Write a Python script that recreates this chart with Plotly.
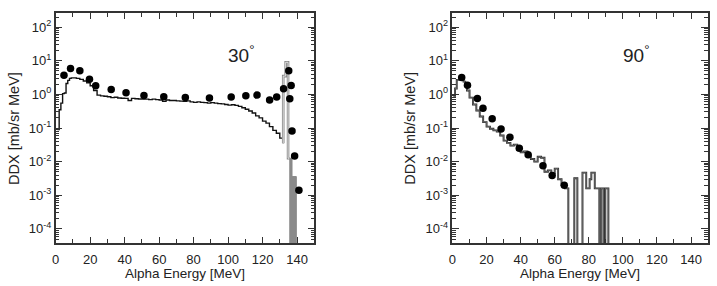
import plotly.graph_objects as go
import numpy as np

# ---------------- data: 30 degrees ----------------
exp30_E = [4.8, 8.6, 14.0, 19.6, 23.2, 32.2, 40.8, 51.2, 62.7, 75.2, 89.2, 101.8,
           110.3, 116.8, 124.1, 128.2, 132.2, 135.2, 136.6, 135.8, 137.1, 138.6, 141.1]
exp30_DDX = [3.7, 5.9, 5.0, 2.8, 1.8, 1.4, 1.12, 0.93, 0.85, 0.81, 0.78, 0.83,
             0.91, 0.95, 0.68, 0.84, 1.48, 5.0, 1.85, 0.74, 0.081, 0.0147, 0.0014]

calc30_edges = [1, 2, 3, 4, 5, 6, 7, 8, 9] + list(range(12, 134, 2))
calc30_vals = [0.09, 0.35, 0.55, 1.05, 1.1, 2.1, 2.6, 3.0, 3.1,
               3.0, 2.8, 2.5, 2.2, 1.8, 1.3, 0.95, 0.9, 0.88, 0.85,
               0.8, 0.82, 0.78, 0.77, 0.76, 0.66, 0.76, 0.74, 0.73, 0.72,
               0.72, 0.7, 0.72, 0.7, 0.68, 0.62, 0.68, 0.66, 0.66, 0.64,
               0.63, 0.62, 0.64, 0.6, 0.58, 0.6, 0.58, 0.57, 0.55, 0.57,
               0.55, 0.53, 0.52, 0.5, 0.48, 0.49, 0.47, 0.44, 0.40, 0.36,
               0.32, 0.28, 0.23, 0.2, 0.16, 0.14, 0.11, 0.085, 0.07, 0.05, 0.035]

peak30_edges = [132, 133.4, 134.8, 135.8]
peak30_vals = [3.5, 9.0, 0.0126]

fill30_edges = [135.8, 137.1, 139.6]
fill30_vals = [0.0126, 0.0036]

# ---------------- data: 90 degrees ----------------
exp90_E = [5.4, 8.8, 14.6, 17.9, 23.3, 28.5, 33.7, 39.2, 44.4, 53.1, 58.5, 65.6]
exp90_DDX = [3.2, 1.88, 0.76, 0.39, 0.19, 0.093, 0.053, 0.025, 0.016, 0.0075, 0.0039, 0.0020]

calc90_edges = [0.5, 1.5, 2.5, 4.5, 6.5, 7.5, 8.5, 10] + list(range(12, 70, 2)) + \
               [71.5, 73.3, 76.3, 78.5, 80.5, 81.5, 83.5, 86.2, 87.1, 88.6, 89.7, 91.5]
calc90_vals = [0.9, 1.5, 2.7, 3.2, 2.4, 1.9, 1.3,
               0.8, 0.5, 0.33, 0.22, 0.15, 0.11, 0.095, 0.085, 0.078, 0.06,
               0.042, 0.036, 0.03, 0.032, 0.022, 0.019, 0.02, 0.015, 0.012, 0.010,
               0.014, 0.013, 0.005, 0.0055, 0.0045, 0.0062, 0.003, 0.002, 0.0016,
               0, 0.0032, 0, 0.0047, 0.0016, 0.003, 0.0047, 0.0016, 0, 0.0016, 0, 0.0016]

xtick_vals = [0, 20, 40, 60, 80, 100, 120, 140]
ytick_exps = [-4, -3, -2, -1, 0, 1, 2]
angle_labels = ["30", "90"]

FLOOR = 1e-7


def step_xy(edges, vals, close_end=True):
    v = [x if x > 0 else FLOOR for x in vals]
    xs = list(edges)
    ys = v + [v[-1]]
    if close_end:
        xs = xs + [edges[-1]]
        ys = ys + [FLOOR]
    return xs, ys


fig = go.Figure()

# ---- left panel (30 deg)
x, y = step_xy(calc30_edges, calc30_vals, close_end=False)
fig.add_trace(go.Scatter(x=x, y=y, mode="lines", line=dict(shape="hv", color="#111", width=1.4),
                         xaxis="x", yaxis="y", showlegend=False))
px_ = [calc30_edges[-1]] + peak30_edges
py_ = [calc30_vals[-1]] + peak30_vals + [peak30_vals[-1]]
fig.add_trace(go.Scatter(x=px_, y=py_[:len(px_)], mode="lines",
                         line=dict(shape="hv", color="#8a8a8a", width=2.6),
                         xaxis="x", yaxis="y", showlegend=False))
fig.add_trace(go.Scatter(x=px_, y=py_[:len(px_)], mode="lines",
                         line=dict(shape="hv", color="#ffffff", width=0.7),
                         xaxis="x", yaxis="y", showlegend=False))
fx, fy = [fill30_edges[0]], [FLOOR]
for i, val in enumerate(fill30_vals):
    fx += [fill30_edges[i], fill30_edges[i + 1]]
    fy += [val, val]
fx += [fill30_edges[-1]]
fy += [FLOOR]
fig.add_trace(go.Scatter(x=fx, y=fy, mode="lines", fill="toself", fillcolor="#8a8a8a",
                         line=dict(color="#8a8a8a", width=1), xaxis="x", yaxis="y", showlegend=False))
fig.add_trace(go.Scatter(x=exp30_E, y=exp30_DDX, mode="markers",
                         marker=dict(color="black", size=7.5), xaxis="x", yaxis="y", showlegend=False))

# ---- right panel (90 deg)
x, y = step_xy(calc90_edges, calc90_vals, close_end=True)
fig.add_trace(go.Scatter(x=x, y=y, mode="lines", line=dict(shape="hv", color="#2a2a2a", width=1.9),
                         xaxis="x2", yaxis="y2", showlegend=False))
fig.add_trace(go.Scatter(x=x, y=y, mode="lines", line=dict(shape="hv", color="#9a9a9a", width=0.5),
                         xaxis="x2", yaxis="y2", showlegend=False))
fig.add_trace(go.Scatter(x=exp90_E, y=exp90_DDX, mode="markers",
                         marker=dict(color="black", size=7.5), xaxis="x2", yaxis="y2", showlegend=False))

W, H = 717, 286
FONT = "Liberation Sans, Arial, sans-serif"
AX = "#333"

yminor = [m * 10 ** e for e in range(-5, 3) for m in range(2, 10)]
xax = dict(range=[0, 150], tickvals=xtick_vals, ticktext=[str(v) for v in xtick_vals],
           ticks="inside", ticklen=6, tickwidth=1, tickcolor=AX, ticklabelstandoff=4,
           minor=dict(tickvals=[10, 30, 50, 70, 90, 110, 130], ticks="inside", ticklen=4,
                      tickcolor=AX, tickwidth=1),
           showline=True, linecolor=AX, linewidth=1.5, mirror="ticks",
           showgrid=False, zeroline=False, tickfont=dict(size=13, color="#222", family=FONT))
yax = dict(type="log", range=[-4.42, 2.42], tickvals=[10.0 ** e for e in ytick_exps],
           ticktext=["10<sup>%d</sup>" % e for e in ytick_exps],
           ticks="inside", ticklen=7, tickwidth=1, tickcolor=AX,
           minor=dict(tickvals=yminor, ticks="inside", ticklen=4, tickcolor=AX, tickwidth=1),
           showline=True, linecolor=AX, linewidth=1.5, mirror="ticks",
           showgrid=False, zeroline=False, tickfont=dict(size=13, color="#222", family=FONT))

y0, y1 = 1 - 243 / H, 1 - 13 / H
L = dict(xaxis=dict(domain=[52 / W, 312 / W], anchor="y", **xax),
         yaxis=dict(domain=[y0, y1], anchor="x", **yax),
         xaxis2=dict(domain=[451 / W, 708 / W], anchor="y2", **xax),
         yaxis2=dict(domain=[y0, y1], anchor="x2", **yax))
fig.update_layout(**L)

ann = []
for cx, ax_center in [(10, 182), (408, 579.5)]:
    ann.append(dict(x=cx / W, y=1 - 128 / H, xref="paper", yref="paper", text="DDX [mb/sr MeV]",
                    xanchor="center", yanchor="middle",
                    textangle=-90, showarrow=False, font=dict(size=14.5, color="#222", family=FONT)))
    ann.append(dict(x=ax_center / W, y=1 - 273 / H, xref="paper", yref="paper",
                    xanchor="center", yanchor="middle",
                    text="Alpha Energy [MeV]", showarrow=False,
                    font=dict(size=13.5, color="#222", family=FONT)))
for cx, lab in [(238, angle_labels[0]), (636, angle_labels[1])]:
    ann.append(dict(x=cx / W, y=1 - 54 / H, xref="paper", yref="paper",
                    xanchor="center", yanchor="middle",
                    text=lab + "<sup>°</sup>", showarrow=False,
                    font=dict(size=19, color="#222", family=FONT)))

fig.update_layout(width=W, height=H, margin=dict(l=0, r=0, t=0, b=0),
                  paper_bgcolor="white", plot_bgcolor="white", annotations=ann,
                  font=dict(family=FONT, color="#222"))
fig.write_html("out.html")
